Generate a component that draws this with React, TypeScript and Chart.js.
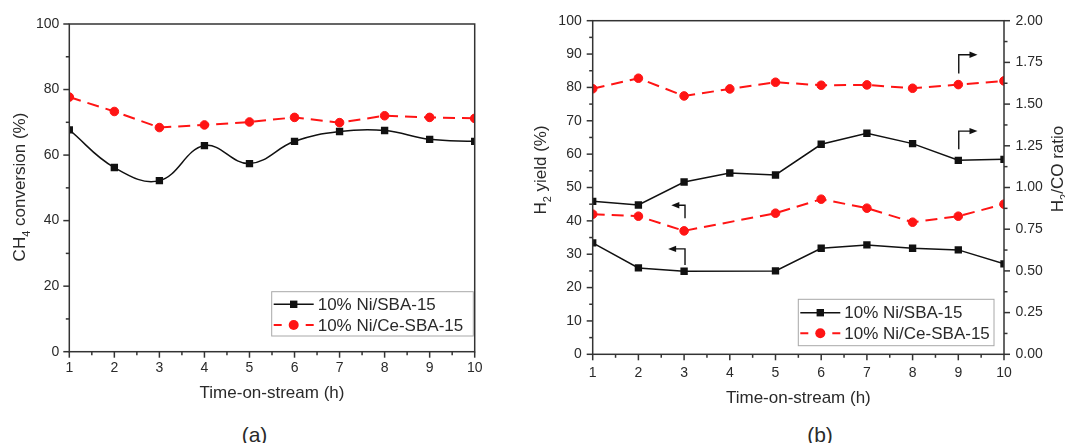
import React, { useEffect, useRef } from 'react';
import { Chart, registerables } from 'chart.js';
Chart.register(...registerables);

// ---------- data ----------
const hours = [1, 2, 3, 4, 5, 6, 7, 8, 9, 10];
const seriesLabels = ['10% Ni/SBA-15', '10% Ni/Ce-SBA-15'];
// (a) CH4 conversion (%)
const convNi = [67.7, 56.2, 52.2, 62.9, 57.4, 64.2, 67.2, 67.5, 64.8, 64.2];
const convNiCe = [77.7, 73.3, 68.4, 69.2, 70.1, 71.5, 69.9, 72.0, 71.5, 71.2];
// (b) H2 yield (%) (left axis) - no measurement at 4 h
const yieldNi = [33.4, 25.9, 24.9, null, 25.0, 31.8, 32.8, 31.8, 31.3, 27.1];
const yieldNiCe = [42.0, 41.4, 37.0, null, 42.3, 46.5, 43.8, 39.6, 41.4, 45.0];
// (b) H2/CO ratio (right axis)
const ratioNi = [0.917, 0.895, 1.033, 1.087, 1.075, 1.259, 1.325, 1.263, 1.163, 1.169];
const ratioNiCe = [1.592, 1.655, 1.549, 1.591, 1.631, 1.613, 1.615, 1.595, 1.617, 1.639];
// axis ranges / steps
const convAxis = [0, 100, 20, 10];
const yieldAxis = [0, 100, 10, 5];
const ratioAxis = [0, 2, 0.25, 0.125];
const timeAxis = [1, 10, 1, 0.5];
// arrow annotations in (b): [x at stem, y stem start, y stem end, x head] (left-axis units)
const arrowsRight = [
  [9.01, 84.2, 89.8, 9.42],
  [9.01, 61.5, 66.9, 9.42],
];
const arrowsLeft = [
  [3.02, 40.8, 44.7, 2.72],
  [3.02, 26.8, 31.6, 2.65],
];

// ---------- style ----------
const FONT = "'Liberation Sans', Arial, Helvetica, sans-serif";
const TEXT = '#2a2a2a';
const AXIS = '#333333';
const BLACK = '#111111';
const RED = '#ff1414';

type Part = { t: string; sub?: boolean };

function drawRich(ctx: CanvasRenderingContext2D, parts: Part[], x: number, y: number, rot: number, size: number) {
  ctx.save();
  ctx.translate(x, y);
  ctx.rotate(rot);
  ctx.fillStyle = TEXT;
  ctx.textBaseline = 'alphabetic';
  ctx.textAlign = 'left';
  const subSize = Math.round(size * 0.62);
  let total = 0;
  const widths = parts.map((p) => {
    ctx.font = `${p.sub ? subSize : size}px ${FONT}`;
    const w = ctx.measureText(p.t).width;
    total += w;
    return w;
  });
  let cx = -total / 2;
  parts.forEach((p, i) => {
    ctx.font = `${p.sub ? subSize : size}px ${FONT}`;
    ctx.fillText(p.t, cx, p.sub ? size * 0.3 : 0);
    cx += widths[i];
  });
  ctx.restore();
}

const framePlugin = {
  id: 'frameTicks',
  afterDraw(chart: any, _args: any, opts: any) {
    const { ctx, chartArea } = chart;
    ctx.save();
    ctx.strokeStyle = AXIS;
    ctx.lineWidth = 1.5;
    ctx.strokeRect(chartArea.left, chartArea.top, chartArea.right - chartArea.left, chartArea.bottom - chartArea.top);
    const axes = opts.axes || {};
    Object.keys(axes).forEach((id) => {
      const s = chart.scales[id];
      const [mn, mx, major, minor] = axes[id].range;
      const side = axes[id].side;
      for (let k = 0; mn + k * minor <= mx + 1e-9; k++) {
        const v = mn + k * minor;
        const r = v / major;
        const isMajor = Math.abs(r - Math.round(r)) < 1e-6;
        const len = isMajor ? 6 : 3.5;
        const p = s.getPixelForValue(v);
        ctx.beginPath();
        if (side === 'bottom') {
          ctx.moveTo(p, chartArea.bottom);
          ctx.lineTo(p, chartArea.bottom + len);
        } else if (side === 'left') {
          ctx.moveTo(chartArea.left, p);
          ctx.lineTo(chartArea.left - len, p);
        } else {
          ctx.moveTo(chartArea.right, p);
          ctx.lineTo(chartArea.right + len, p);
        }
        ctx.stroke();
      }
    });
    ctx.restore();
  },
};

const titlesPlugin = {
  id: 'richTitles',
  afterDraw(chart: any, _args: any, opts: any) {
    const { ctx, chartArea } = chart;
    (opts.items || []).forEach((it: any) => {
      if (it.kind === 'x') {
        drawRich(ctx, it.parts, (chartArea.left + chartArea.right) / 2, chartArea.bottom + it.offset, 0, 17);
      } else {
        drawRich(ctx, it.parts, it.x, it.y, -Math.PI / 2, 17);
      }
    });
  },
};

const legendPlugin = {
  id: 'boxLegend',
  afterDraw(chart: any, _args: any, opts: any) {
    if (!opts.show) return;
    const { ctx, chartArea } = chart;
    const x1 = chartArea.right - opts.rightGap;
    const y1 = chartArea.bottom - opts.bottomGap;
    const x0 = x1 - opts.width;
    const y0 = y1 - opts.height;
    ctx.save();
    ctx.strokeStyle = '#a8a8a8';
    ctx.lineWidth = 1;
    ctx.strokeRect(x0, y0, opts.width, opts.height);
    const ds = chart.data.datasets;
    [0, 1].forEach((i) => {
      const d = ds[i];
      const ry = y0 + opts.rows[i];
      const lx0 = x0 + 2;
      const lx1 = x0 + 42;
      const mid = (lx0 + lx1) / 2;
      ctx.strokeStyle = d.borderColor;
      ctx.lineWidth = d.borderWidth;
      ctx.beginPath();
      if (d.borderDash && d.borderDash.length) {
        ctx.moveTo(lx0, ry); ctx.lineTo(lx0 + 8, ry);
        ctx.moveTo(lx1 - 8, ry); ctx.lineTo(lx1, ry);
      } else {
        ctx.moveTo(lx0, ry); ctx.lineTo(lx1, ry);
      }
      ctx.stroke();
      ctx.fillStyle = d.pointBackgroundColor;
      if (d.pointStyle === 'rect') {
        ctx.fillRect(mid - 3.7, ry - 3.7, 7.4, 7.4);
      } else {
        ctx.beginPath();
        ctx.arc(mid, ry, 5, 0, Math.PI * 2);
        ctx.fill();
      }
      ctx.fillStyle = TEXT;
      ctx.font = `17px ${FONT}`;
      ctx.textBaseline = 'middle';
      ctx.textAlign = 'left';
      ctx.fillText(d.label, x0 + 46, ry + 1);
    });
    ctx.restore();
  },
};

const arrowPlugin = {
  id: 'lArrows',
  afterDraw(chart: any, _args: any, opts: any) {
    if (!opts.show) return;
    const { ctx, scales } = chart;
    const xs = scales.x;
    const ys = scales.y;
    const draw = (a: number[], dir: number) => {
      const sx = xs.getPixelForValue(a[0]);
      const sy0 = ys.getPixelForValue(a[1]);
      const sy1 = ys.getPixelForValue(a[2]);
      const hx = xs.getPixelForValue(a[3]);
      ctx.beginPath();
      ctx.moveTo(sx, sy0);
      ctx.lineTo(sx, sy1);
      ctx.lineTo(hx - dir * 6, sy1);
      ctx.stroke();
      ctx.beginPath();
      ctx.moveTo(hx, sy1);
      ctx.lineTo(hx - dir * 8, sy1 - 3.2);
      ctx.lineTo(hx - dir * 8, sy1 + 3.2);
      ctx.closePath();
      ctx.fill();
    };
    ctx.save();
    ctx.strokeStyle = BLACK;
    ctx.fillStyle = BLACK;
    ctx.lineWidth = 1.4;
    arrowsRight.forEach((a) => draw(a, 1));
    arrowsLeft.forEach((a) => draw(a, -1));
    ctx.restore();
  },
};

function pts(ys: (number | null)[]) {
  return hours.map((h, i) => ({ x: h, y: ys[i] }));
}

function solidSet(label: string, data: (number | null)[], axis: string, tension: number) {
  return {
    label,
    data: pts(data),
    yAxisID: axis,
    borderColor: BLACK,
    backgroundColor: BLACK,
    pointBackgroundColor: BLACK,
    pointBorderColor: BLACK,
    borderWidth: 1.5,
    pointStyle: 'rect',
    pointRadius: 5.2,
    pointBorderWidth: 0,
    tension,
    spanGaps: true,
  };
}

function dashSet(label: string, data: (number | null)[], axis: string) {
  return {
    label,
    data: pts(data),
    yAxisID: axis,
    borderColor: RED,
    backgroundColor: RED,
    pointBackgroundColor: RED,
    pointBorderColor: RED,
    borderWidth: 2,
    borderDash: [12, 7],
    pointStyle: 'circle',
    pointRadius: 4.3,
    pointBorderWidth: 1,
    tension: 0,
    spanGaps: true,
  };
}

const tickFont = { size: 14, family: FONT };

function linAxis(range: number[], extra: any) {
  return {
    type: 'linear',
    min: range[0],
    max: range[1],
    grid: { display: false, drawTicks: false },
    border: { display: false },
    ticks: { stepSize: range[2], font: tickFont, color: TEXT, ...(extra.ticks || {}) },
    ...extra.rest,
  };
}

function ChartA() {
  const ref = useRef<HTMLCanvasElement>(null);
  useEffect(() => {
    const chart = new Chart(ref.current as HTMLCanvasElement, {
      type: 'line',
      data: {
        datasets: [
          solidSet(seriesLabels[0], convNi, 'y', 0.4),
          dashSet(seriesLabels[1], convNiCe, 'y'),
        ] as any,
      },
      options: {
        responsive: false,
        animation: false,
        devicePixelRatio: 1,
        layout: { padding: { top: 24, right: 25.3, left: 0, bottom: 0 } },
        scales: {
          x: linAxis(timeAxis, { ticks: { padding: 7.8, maxRotation: 0 }, rest: { afterFit: (s: any) => { s.height = 58.3; } } }),
          y: linAxis(convAxis, { ticks: { padding: 10 }, rest: { position: 'left', afterFit: (s: any) => { s.width = 69.3; } } }),
        } as any,
        plugins: {
          legend: { display: false },
          tooltip: { enabled: false },
          frameTicks: { axes: { x: { range: timeAxis, side: 'bottom' }, y: { range: convAxis, side: 'left' } } },
          richTitles: {
            items: [
              { kind: 'x', parts: [{ t: 'Time-on-stream (h)' }], offset: 46.5 },
              { kind: 'y', parts: [{ t: 'CH' }, { t: '4', sub: true }, { t: ' conversion (%)' }], x: 25, y: 187 },
            ],
          },
          boxLegend: { show: true, rightGap: 1.4, bottomGap: 15.7, width: 201.6, height: 44.3, rows: [12.6, 33.3] },
          lArrows: { show: false },
        } as any,
      },
      plugins: [framePlugin, titlesPlugin, legendPlugin, arrowPlugin],
    });
    return () => chart.destroy();
  }, []);
  return <canvas ref={ref} width={500} height={410} style={{ position: 'absolute', left: 0, top: 0, width: 500, height: 410 }} />;
}

function ChartB() {
  const ref = useRef<HTMLCanvasElement>(null);
  useEffect(() => {
    const chart = new Chart(ref.current as HTMLCanvasElement, {
      type: 'line',
      data: {
        datasets: [
          solidSet(seriesLabels[0], yieldNi, 'y', 0),
          dashSet(seriesLabels[1], yieldNiCe, 'y'),
          solidSet(seriesLabels[0] + ' ', ratioNi, 'y2', 0),
          dashSet(seriesLabels[1] + ' ', ratioNiCe, 'y2'),
        ] as any,
      },
      options: {
        responsive: false,
        animation: false,
        devicePixelRatio: 1,
        layout: { padding: { top: 20.7, right: 0, left: 0, bottom: 0 } },
        scales: {
          x: linAxis(timeAxis, { ticks: { padding: 10, maxRotation: 0 }, rest: { afterFit: (s: any) => { s.height = 55.7; } } }),
          y: linAxis(yieldAxis, { ticks: { padding: 11 }, rest: { position: 'left', afterFit: (s: any) => { s.width = 62.7; } } }),
          y2: linAxis(ratioAxis, {
            ticks: { padding: 11.5, callback: (v: any) => Number(v).toFixed(2) },
            rest: { position: 'right', afterFit: (s: any) => { s.width = 61; } },
          }),
        } as any,
        plugins: {
          legend: { display: false },
          tooltip: { enabled: false },
          frameTicks: {
            axes: {
              x: { range: timeAxis, side: 'bottom' },
              y: { range: yieldAxis, side: 'left' },
              y2: { range: ratioAxis, side: 'right' },
            },
          },
          richTitles: {
            items: [
              { kind: 'x', parts: [{ t: 'Time-on-stream (h)' }], offset: 49 },
              { kind: 'y', parts: [{ t: 'H' }, { t: '2', sub: true }, { t: ' yield (%)' }], x: 16, y: 170 },
              { kind: 'y', parts: [{ t: 'H' }, { t: '2', sub: true }, { t: '/CO ratio' }], x: 533, y: 169 },
            ],
          },
          boxLegend: { show: true, rightGap: 10, bottomGap: 8.6, width: 195.7, height: 46.4, rows: [13.4, 34] },
          lArrows: { show: true },
        } as any,
      },
      plugins: [framePlugin, titlesPlugin, legendPlugin, arrowPlugin],
    });
    return () => chart.destroy();
  }, []);
  return <canvas ref={ref} width={535} height={410} style={{ position: 'absolute', left: 530, top: 0, width: 535, height: 410 }} />;
}

const capStyle: React.CSSProperties = {
  position: 'absolute',
  width: 100,
  textAlign: 'center',
  fontFamily: FONT,
  fontSize: 21,
  lineHeight: '24px',
  color: TEXT,
  top: 423,
};

export default function App() {
  return (
    <div style={{ position: 'absolute', left: 0, top: 0, width: 1065, height: 443, overflow: 'hidden', background: '#fff' }}>
      <ChartA />
      <ChartB />
      <div style={{ ...capStyle, left: 254.5 - 50 }}>(a)</div>
      <div style={{ ...capStyle, left: 820 - 50 }}>(b)</div>
    </div>
  );
}
